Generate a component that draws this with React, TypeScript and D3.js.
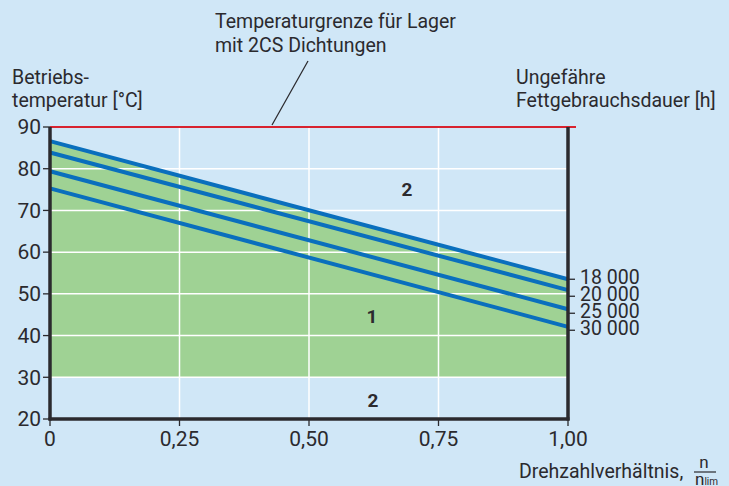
import React from 'react';
import { scaleLinear, line, area } from 'd3';

// Drehzahlverhältnis n / n_lim (x) gegen Betriebstemperatur (y)
const speedRatio = [0, 1];
const life18000 = [86.6, 53.5];
const life20000 = [83.9, 50.9];
const life25000 = [79.4, 46.3];
const life30000 = [75.3, 42.1];
const lifeLabels = ['18 000', '20 000', '25 000', '30 000'];
const xTicks = [0, 0.25, 0.5, 0.75, 1];
const xTickLabels = ['0', '0,25', '0,50', '0,75', '1,00'];
const yTicks = [20, 30, 40, 50, 60, 70, 80, 90];
const tempLimit = 90;
const greenFloor = 30;

const FONT = "Roboto, sans-serif";
const INK = '#2b2a2e';

export default function App() {
  const width = 729, height = 486;
  const x = scaleLinear().domain([0, 1]).range([50, 568]);
  const y = scaleLinear().domain([20, 90]).range([419, 127]);

  const allLines = [life18000, life20000, life25000, life30000];
  const pts = (vals: number[]) => speedRatio.map((s, i) => [s, vals[i]] as [number, number]);
  const lineGen = line<[number, number]>().x((d) => x(d[0])).y((d) => y(d[1]));
  const areaGen = area<[number, number]>()
    .x((d) => x(d[0]))
    .y0(() => y(greenFloor))
    .y1((d) => y(d[1]));

  const labelTop = y(life18000[1]) - 2;

  return (
    <svg width={width} height={height} style={{ position: 'absolute', left: 0, top: 0 }} fontFamily={FONT}>
      <rect width={width} height={height} fill="#d0e7f7" />
      <path d={areaGen(pts(life18000)) || ''} fill="#9fd294" />

      {/* Gitter */}
      {xTicks.slice(1, -1).map((t) => (
        <line key={'gx' + t} x1={x(t)} x2={x(t)} y1={y(90)} y2={y(20)} stroke="#fff" strokeWidth={1.5} />
      ))}
      {yTicks.slice(1, -1).map((t) => (
        <line key={'gy' + t} x1={x(0)} x2={x(1)} y1={y(t)} y2={y(t)} stroke="#fff" strokeWidth={1.5} />
      ))}

      {allLines.map((vals, i) => (
        <path key={'l' + i} d={lineGen(pts(vals)) || ''} fill="none" stroke="#0a6fbd" strokeWidth={4} />
      ))}

      {/* Temperaturgrenze */}
      <line x1={x(0)} x2={x(1) + 8} y1={y(tempLimit)} y2={y(tempLimit)} stroke="#d8232f" strokeWidth={2} />
      <line x1={308} y1={61} x2={272} y2={y(tempLimit) - 2} stroke={INK} strokeWidth={1.3} />

      {/* Achsen */}
      <line x1={x(0)} x2={x(0)} y1={y(90)} y2={y(20) + 1.5} stroke={INK} strokeWidth={3.5} />
      <line x1={x(1)} x2={x(1)} y1={y(90)} y2={y(20) + 1.5} stroke={INK} strokeWidth={3.5} />
      <line x1={x(0) - 1.5} x2={x(1) + 1.5} y1={y(20)} y2={y(20)} stroke={INK} strokeWidth={3.5} />

      {yTicks.map((t) => (
        <g key={'yt' + t}>
          <line x1={x(0) - 7} x2={x(0)} y1={y(t)} y2={y(t)} stroke={INK} strokeWidth={1.3} />
          <text x={x(0) - 9} y={y(t)} dy="0.35em" textAnchor="end" fontSize={21} fill={INK}>{t}</text>
        </g>
      ))}
      {xTicks.map((t, i) => (
        <g key={'xt' + t}>
          <line x1={x(t)} x2={x(t)} y1={y(20)} y2={y(20) + 7} stroke={INK} strokeWidth={1.3} />
          <text x={x(t)} y={y(20) + 27} textAnchor="middle" fontSize={21} fill={INK}>{xTickLabels[i]}</text>
        </g>
      ))}

      {lifeLabels.map((lab, i) => (
        <g key={'ll' + i}>
          <line x1={x(1)} x2={x(1) + 7} y1={labelTop + 2 + i * 17} y2={labelTop + 2 + i * 17} stroke={INK} strokeWidth={1.3} />
          <text x={x(1) + 12} y={labelTop + i * 17} dy="0.35em" fontSize={19.5} fill={INK}>{lab}</text>
        </g>
      ))}

      {/* Bereiche */}
      <text x={407} y={189} dy="0.35em" textAnchor="middle" fontSize={19} fontWeight="bold" fill={INK}>2</text>
      <text x={372} y={316} dy="0.35em" textAnchor="middle" fontSize={19} fontWeight="bold" fill={INK}>1</text>
      <text x={373} y={400} dy="0.35em" textAnchor="middle" fontSize={19} fontWeight="bold" fill={INK}>2</text>

      {/* Beschriftungen */}
      <text x={215} y={28} fontSize={19.5} fill={INK}>Temperaturgrenze für Lager</text>
      <text x={215} y={52} fontSize={19.5} fill={INK}>mit 2CS Dichtungen</text>
      <text x={12} y={84} fontSize={19.5} fill={INK}>Betriebs-</text>
      <text x={12} y={107} fontSize={19.5} fill={INK}>temperatur [°C]</text>
      <text x={516} y={84} fontSize={19.5} fill={INK}>Ungefähre</text>
      <text x={516} y={107} fontSize={19.5} fill={INK}>Fettgebrauchsdauer [h]</text>

      <text x={519} y={478} fontSize={19.5} fill={INK}>Drehzahlverhältnis,</text>
      <text x={704} y={468} textAnchor="middle" fontSize={17} fill={INK}>n</text>
      <line x1={694} x2={716} y1={472} y2={472} stroke={INK} strokeWidth={1.2} />
      <text x={695} y={485} fontSize={17} fill={INK}>n<tspan fontSize={10}>lim</tspan></text>
    </svg>
  );
}
